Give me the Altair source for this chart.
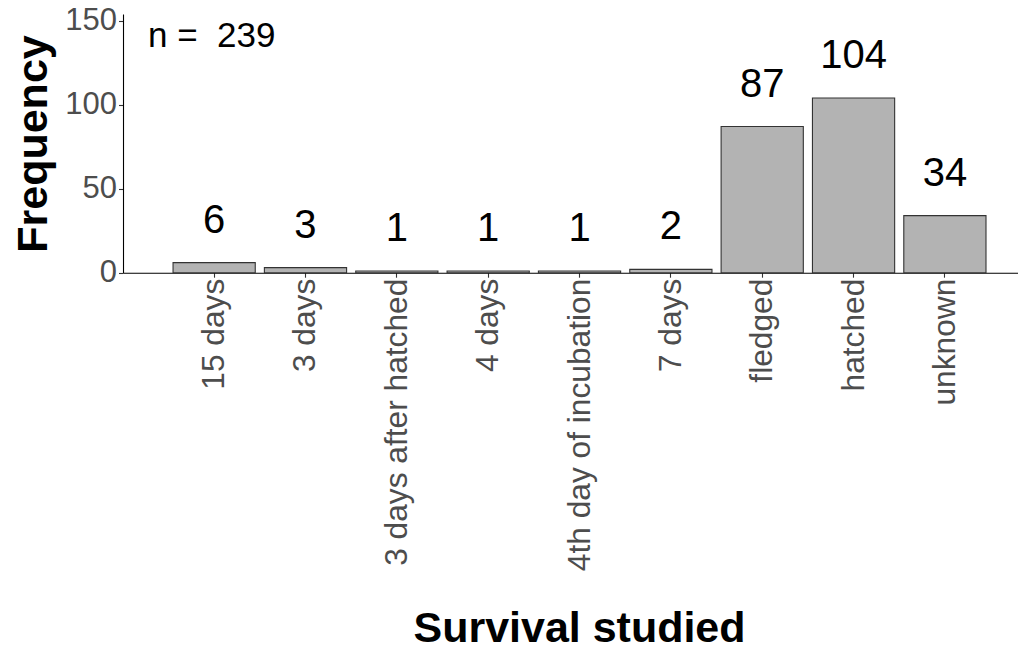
import altair as alt
import pandas as pd

# survival category and bar counts
CATEGORIES = [
    "15 days", "3 days", "3 days after hatched", "4 days",
    "4th day of incubation", "7 days", "fledged", "hatched", "unknown",
]
COUNTS = [6, 3, 1, 1, 1, 2, 87, 104, 34]
Y_TICKS = [0, 50, 100, 150]

FONT = "Liberation Sans"

df = pd.DataFrame({"survival": CATEGORIES, "freq": COUNTS})
n_total = sum(COUNTS)
n_df = pd.DataFrame({"label": ["n = \u00a0{}".format(n_total)]})

x_scale = alt.Scale(domain=CATEGORIES, paddingInner=0.1, paddingOuter=0.449, align=0.61)
y_scale = alt.Scale(domain=[0, 154], nice=False)

x_axis = alt.Axis(
    title="Survival studied", titleFont=FONT, titleFontSize=43, titleFontWeight="bold",
    titleColor="black", titleX=456, titleY=369.3, titleAlign="center",
    titleBaseline="alphabetic",
    labelAngle=270, labelFont=FONT, labelFontSize=31.7, labelColor="#4D4D4D",
    labelPadding=1, labelLimit=500,
    tickSize=4.5, tickColor="#333333", tickWidth=1.1,
    domainColor="black", domainWidth=1.1, grid=False,
)
y_axis = alt.Axis(
    title="Frequency", titleFont=FONT, titleFontSize=43, titleFontWeight="bold",
    titleColor="black", titleAngle=270, titleX=-77, titleY=129.5,
    titleAlign="center", titleBaseline="alphabetic",
    values=Y_TICKS, labelFont=FONT, labelFontSize=31, labelColor="#4D4D4D",
    labelPadding=2, tickSize=4.5, tickColor="#333333", tickWidth=1.1,
    domainColor="black", domainWidth=1.1, grid=False,
)

base = alt.Chart(df).encode(
    x=alt.X("survival:N", scale=x_scale, sort=CATEGORIES, axis=x_axis),
    y=alt.Y("freq:Q", scale=y_scale, axis=y_axis),
)

bars = base.mark_bar(fill="#B3B3B3", stroke="#333333", strokeWidth=1.1)

labels = base.mark_text(
    font=FONT, fontSize=40, color="black", baseline="alphabetic", dy=-30
).encode(text="freq:Q")

# sample size annotation, top-left of the panel
n_text = alt.Chart(n_df).mark_text(
    font=FONT, fontSize=35, color="black", align="left", baseline="alphabetic"
).encode(x=alt.value(25), y=alt.value(32.7), text="label:N")

chart = alt.layer(bars, labels, n_text).properties(
    width=895,
    height=258.7,
    autosize=alt.AutoSizeParams(type="none"),
    padding={"left": 115, "top": 6, "right": 0, "bottom": 378},
).configure_view(strokeWidth=0)

chart.save("out.html", embed_options={"renderer": "svg", "actions": False})
